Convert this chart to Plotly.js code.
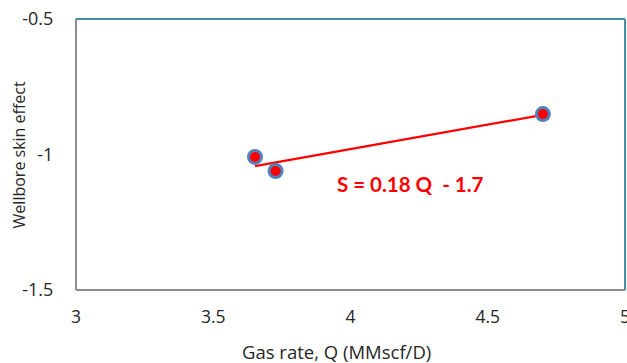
<!DOCTYPE html>
<html>
<head>
<meta charset="utf-8">
<script src="https://cdn.plot.ly/plotly-3.0.1.min.js"></script>
<style>
  html, body { margin: 0; padding: 0; background: #ffffff; overflow: hidden; }
  #chart { width: 627px; height: 363px; }
</style>
</head>
<body>
<div id="chart"></div>
<script>
// Measured gas rate (MMscf/D) and wellbore skin effect
const gasRate = [3.652, 3.727, 4.701];
const skin = [-1.009, -1.061, -0.851];

// Linear fit S = slope * Q + intercept
const fitSlope = 0.18;
const fitIntercept = -1.7;
const fitLabel = "S = 0.18 Q  - 1.7";

const xTicks = [3, 3.5, 4, 4.5, 5];
const yTicks = [-0.5, -1, -1.5];

const xTitle = "Gas rate, Q (MMscf/D)";
const yTitle = "Wellbore skin effect";

const qMin = Math.min(...gasRate);
const qMax = Math.max(...gasRate);
const fitX = [qMin, qMax];
const fitY = fitX.map(q => fitSlope * q + fitIntercept);

const bodyFont = "'Open Sans', sans-serif";
const labelFont = "Lato, 'Open Sans', sans-serif";
const textColor = "#262626";

const traces = [
  {
    x: fitX, y: fitY, type: "scatter", mode: "lines",
    line: { color: "#ff0000", width: 2.2 },
    hoverinfo: "skip", showlegend: false
  },
  {
    x: gasRate, y: skin, type: "scatter", mode: "markers",
    marker: { color: "#ff0000", size: 13, line: { color: "#4f81bd", width: 3 } },
    showlegend: false
  }
];

const layout = {
  width: 627, height: 363,
  margin: { l: 76, r: 2, t: 19, b: 73 },
  paper_bgcolor: "#ffffff", plot_bgcolor: "#ffffff",
  font: { family: bodyFont, color: textColor, size: 16 },
  showlegend: false,
  xaxis: {
    range: [3, 5], tickvals: xTicks, ticktext: xTicks.map(String),
    showgrid: false, zeroline: false, showline: false,
    ticks: "outside", ticklen: 11, tickcolor: "rgba(0,0,0,0)",
    ticklabeloverflow: "allow",
    tickfont: { family: bodyFont, size: 17.5, color: textColor }
  },
  yaxis: {
    range: [-1.5, -0.5], tickvals: yTicks, ticktext: yTicks.map(String),
    showgrid: false, zeroline: false, showline: false,
    ticks: "outside", ticklen: 18, tickcolor: "rgba(0,0,0,0)",
    tickfont: { family: bodyFont, size: 18, color: textColor }
  },
  shapes: [
    // bottom and left frame edges
    { type: "line", xref: "paper", yref: "paper", x0: 0, x1: 1, y0: 0, y1: 0, line: { color: "#8c8c8c", width: 2 } },
    { type: "line", xref: "paper", yref: "paper", x0: 0, x1: 0, y0: 0, y1: 1, line: { color: "#8c8c8c", width: 2 } },
    // top and right frame edges
    { type: "line", xref: "paper", yref: "paper", x0: 0, x1: 1, y0: 1, y1: 1, line: { color: "#3f8fa8", width: 2 } },
    { type: "line", xref: "paper", yref: "paper", x0: 1, x1: 1, y0: 0, y1: 1, line: { color: "#3f8fa8", width: 2 } }
  ],
  annotations: [
    {
      x: 3.944, y: -1.109, xref: "x", yref: "y",
      xanchor: "left", yanchor: "middle", showarrow: false,
      text: "<b>" + fitLabel + "</b>",
      font: { family: labelFont, size: 20.5, color: "#ff0000" }
    },
    {
      // x-axis title
      x: 0.475, y: -0.226, xref: "paper", yref: "paper",
      xanchor: "center", yanchor: "middle", showarrow: false,
      text: xTitle,
      font: { family: bodyFont, size: 18.5, color: textColor }
    },
    {
      // y-axis title
      x: -0.104, y: 0.5, xref: "paper", yref: "paper",
      xanchor: "center", yanchor: "middle", showarrow: false, textangle: -90,
      text: yTitle,
      font: { family: bodyFont, size: 16, color: textColor }
    }
  ]
};

Plotly.newPlot("chart", traces, layout, { displayModeBar: false, staticPlot: true });
</script>
</body>
</html>
